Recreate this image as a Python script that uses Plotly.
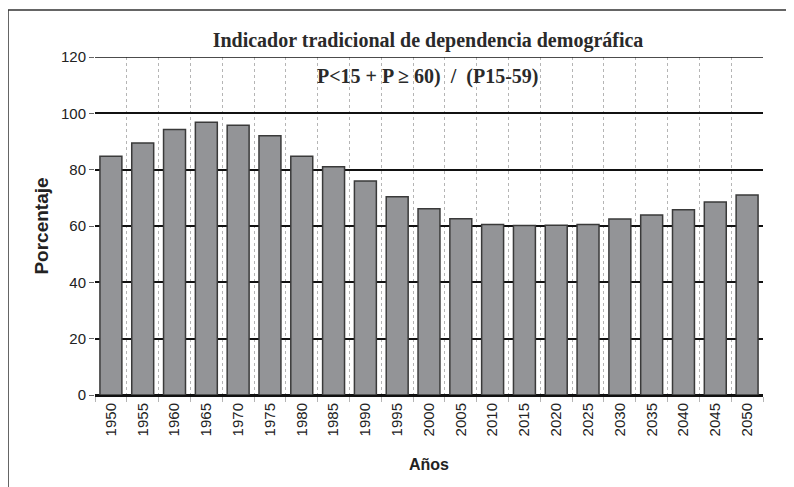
import plotly.graph_objects as go

years = ["1950", "1955", "1960", "1965", "1970", "1975", "1980", "1985", "1990", "1995",
         "2000", "2005", "2010", "2015", "2020", "2025", "2030", "2035", "2040", "2045", "2050"]
values = [84.8, 89.5, 94.3, 96.8, 95.8, 92.0, 84.8, 81.0, 76.0, 70.4,
          66.1, 62.6, 60.5, 60.2, 60.3, 60.5, 62.5, 63.9, 65.8, 68.5, 71.0]

W, H = 794, 487
L, R, T, B = 87, 39, 49, 100
pw, ph = W - L - R, H - T - B

fig = go.Figure()
fig.add_trace(go.Bar(
    x=years, y=values,
    marker=dict(color="#939497", line=dict(color="#3a3a3a", width=1.5)),
))

fig.update_layout(
    width=W, height=H,
    margin=dict(l=L, r=R, t=T, b=B, autoexpand=False),
    paper_bgcolor="white", plot_bgcolor="white",
    bargap=0.31,
    showlegend=False,
    font=dict(family="Liberation Sans, Arial, sans-serif", size=15, color="#222222"),
    title=dict(text="<b>Indicador tradicional de dependencia demográfica</b>",
               x=(428 - 8 - L) / pw, xanchor="center", xref="paper",
               y=1 - 32 / H, yanchor="middle",
               font=dict(family="Liberation Serif, Times New Roman, serif", size=20, color="#2a2a2a")),
    xaxis=dict(type="category", tickson="boundaries", showgrid=True, griddash="dot",
               gridcolor="#b5b5b5", gridwidth=1.2, ticks="outside", ticklen=5,
               tickcolor="#b5b5b5", tickangle=-90, showline=True, linecolor="#111111",
               linewidth=2,
               title=dict(text="<b>Años</b>", font=dict(size=16), standoff=23)),
    yaxis=dict(range=[0, 120], dtick=20, showgrid=True, gridcolor="#111111", gridwidth=1.5,
               zeroline=True, zerolinecolor="#111111", zerolinewidth=2,
               ticks="outside", ticklen=5, tickcolor="#666666", showline=False,
               title=dict(text="<b>Porcentaje</b>", font=dict(size=19), standoff=7)),
)

# top gridline at 120
fig.add_shape(type="line", xref="paper", yref="y", x0=0, x1=1, y0=120, y1=120,
              line=dict(color="#111111", width=1.5))

fig.add_annotation(
    text="<b>P<15 + P ≥ 60)  /  (P15-59)</b>",
    xref="paper", yref="paper", x=(428 - 8 - L) / pw, y=(ph - (77 - 8 - T)) / ph,
    showarrow=False, xanchor="center", yanchor="middle",
    font=dict(family="Liberation Serif, Times New Roman, serif", size=20, color="#2a2a2a"),
)

# outer frame (left/top visible)
fig.add_shape(type="rect", xref="paper", yref="paper",
              x0=(0 - L) / pw, x1=(W + 20 - L) / pw,
              y0=-(B + 30) / ph, y1=(ph + T - 2) / ph,
              line=dict(color="#333333", width=1.5), fillcolor="rgba(0,0,0,0)", layer="below")

fig.write_html("out.html")
